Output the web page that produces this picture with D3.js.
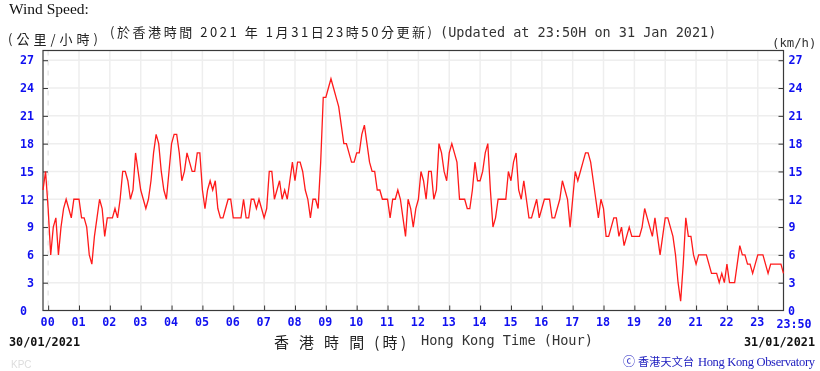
<!DOCTYPE html>
<html>
<head>
<meta charset="utf-8">
<script src="https://d3js.org/d3.v7.min.js"></script>
<style>
html, body { margin: 0; padding: 0; background: #fff; }
svg { display: block; filter: blur(0.3px); }
.mono { font-family: "DejaVu Sans Mono", monospace; fill: #333; }
.cjk { font-family: "Noto Sans CJK TC", sans-serif; fill: #222; }
.tick text { font-family: "DejaVu Sans Mono", monospace; font-weight: bold; font-size: 11.7px; fill: #1010f0; }
.domain { display: none; }
.tick line { stroke: #333; }
</style>
</head>
<body>
<div id="chart"></div>
<script>
// wind speed in km/h, every 5 minutes
const lastDay = [13, 15];
const hour00 = [11, 6, 9, 10, 6, 9, 11, 12, 11, 10, 12, 12];
const hour01 = [12, 10, 10, 9, 6, 5, 8, 10, 12, 11, 8, 10];
const hour02 = [10, 10, 11, 10, 12, 15, 15, 14, 12, 13, 17, 15];
const hour03 = [13, 12, 11, 12, 14, 17, 19, 18, 15, 13, 12, 15];
const hour04 = [18, 19, 19, 17, 14, 15, 17, 16, 15, 15, 17, 17];
const hour05 = [13, 11, 13, 14, 13, 14, 11, 10, 10, 11, 12, 12];
const hour06 = [10, 10, 10, 10, 12, 10, 10, 12, 12, 11, 12, 11];
const hour07 = [10, 11, 15, 15, 12, 13, 14, 12, 13, 12, 14, 16];
const hour08 = [14, 16, 16, 15, 13, 12, 10, 12, 12, 11, 16, 23];
const hour09 = [23, 24, 25, 24, 23, 22, 20, 18, 18, 17, 16, 16];
const hour10 = [17, 17, 19, 20, 18, 16, 15, 15, 13, 13, 12, 12];
const hour11 = [12, 10, 12, 12, 13, 12, 10, 8, 12, 11, 9, 11];
const hour12 = [12, 15, 14, 12, 15, 15, 12, 13, 18, 17, 15, 14];
const hour13 = [17, 18, 17, 16, 12, 12, 12, 11, 11, 13, 16, 14];
const hour14 = [14, 15, 17, 18, 13, 9, 10, 12, 12, 12, 12, 15];
const hour15 = [14, 16, 17, 13, 12, 14, 12, 10, 10, 11, 12, 10];
const hour16 = [11, 12, 12, 12, 10, 10, 11, 12, 14, 13, 12, 9];
const hour17 = [12, 15, 14, 15, 16, 17, 17, 16, 14, 12, 10, 12];
const hour18 = [11, 8, 8, 9, 10, 10, 8, 9, 7, 8, 9, 8];
const hour19 = [8, 8, 8, 9, 11, 10, 9, 8, 10, 8, 6, 8];
const hour20 = [10, 10, 9, 8, 6, 3, 1, 5, 10, 8, 8, 6];
const hour21 = [5, 6, 6, 6, 6, 5, 4, 4, 4, 3, 4, 3];
const hour22 = [5, 3, 3, 3, 5, 7, 6, 6, 5, 5, 4, 5];
const hour23 = [6, 6, 6, 5, 4, 5, 5, 5, 5, 5, 4];

const speeds = [].concat(lastDay, hour00, hour01, hour02, hour03, hour04, hour05,
    hour06, hour07, hour08, hour09, hour10, hour11, hour12, hour13, hour14, hour15,
    hour16, hour17, hour18, hour19, hour20, hour21, hour22, hour23);

const hourLabels = ["00","01","02","03","04","05","06","07","08","09","10","11",
    "12","13","14","15","16","17","18","19","20","21","22","23"];
const speedTicks = [0, 3, 6, 9, 12, 15, 18, 21, 24, 27];

const width = 820;
const height = 371;

const svg = d3.select("#chart")
    .append("svg")
    .attr("width", width)
    .attr("height", height);

// minutes after 00:00 on 30/01, the line starts 10 minutes before that
const x = d3.scaleLinear().domain([-10, 1430]).range([43, 783.5]);
const y = d3.scaleLinear().domain([0, 28.05]).range([310.5, 50.5]);

const hourTicks = hourLabels.map((d, i) => i * 60);

// grid
svg.append("g").selectAll("line")
    .data(hourTicks.slice(1))
    .enter().append("line")
    .attr("x1", d => x(d)).attr("x2", d => x(d))
    .attr("y1", y.range()[1]).attr("y2", y.range()[0])
    .attr("stroke", "#eeeeee").attr("stroke-width", 1.5);

svg.append("line")
    .attr("x1", x(0)).attr("x2", x(0))
    .attr("y1", y.range()[1]).attr("y2", y.range()[0])
    .attr("stroke", "#e8e8e8").attr("stroke-width", 1.5)
    .attr("stroke-dasharray", "5,5");

svg.append("g").selectAll("line")
    .data(speedTicks.slice(1))
    .enter().append("line")
    .attr("x1", x.range()[0]).attr("x2", x.range()[1])
    .attr("y1", d => y(d)).attr("y2", d => y(d))
    .attr("stroke", "#eeeeee").attr("stroke-width", 1.5);

// axes, ticks point inwards
svg.append("g")
    .attr("transform", "translate(43,0)")
    .call(d3.axisLeft(y).tickValues(speedTicks.slice(1)).tickSize(-5).tickPadding(9));

svg.append("g")
    .attr("transform", "translate(783.5,0)")
    .call(d3.axisRight(y).tickValues(speedTicks.slice(1)).tickSize(-5).tickPadding(5));

const bottomAxis = svg.append("g")
    .attr("transform", "translate(0,310.5)")
    .call(d3.axisBottom(x).tickValues(hourTicks).tickFormat((d, i) => hourLabels[i]).tickSize(-5).tickPadding(7));
bottomAxis.selectAll("text").attr("dx", -1);

// the zero labels and the end time sit apart from the axes
const blueLabel = (px, py, label, anchor) => svg.append("text")
    .attr("x", px).attr("y", py)
    .attr("text-anchor", anchor)
    .style("font-family", "'DejaVu Sans Mono', monospace")
    .style("font-weight", "bold")
    .style("font-size", "11.7px")
    .style("fill", "#1010f0")
    .text(label);

blueLabel(27, y(0) + 4, speedTicks[0], "end");
blueLabel(788, y(0) + 4, speedTicks[0], "start");
blueLabel(794, 328, "23:50", "middle");

// frame
svg.append("rect")
    .attr("x", 43).attr("y", 50.5)
    .attr("width", 740.5).attr("height", 260)
    .attr("fill", "none")
    .attr("stroke", "#3a3a3a")
    .attr("stroke-width", 1.2);

// wind line
const line = d3.line()
    .x((d, i) => x(-10 + i * 5))
    .y(d => y(d));

svg.append("path")
    .datum(speeds)
    .attr("fill", "none")
    .attr("stroke", "#ff1a1a")
    .attr("stroke-width", 1.3)
    .attr("d", line);

// titles
svg.append("text")
    .attr("x", 9).attr("y", 14)
    .style("font-family", "'Liberation Serif', serif")
    .style("font-size", "15.5px")
    .style("fill", "#111")
    .text("Wind Speed:");

svg.append("text")
    .attr("class", "cjk")
    .attr("x", 8).attr("y", 44)
    .attr("textLength", 90)
    .style("font-size", "13px")
    .text("(公里/小時)");

svg.append("text")
    .attr("class", "cjk")
    .attr("x", 110).attr("y", 37)
    .attr("textLength", 322)
    .style("font-size", "13px")
    .text("(於香港時間 2021 年 1月31日23時50分更新)");

svg.append("text")
    .attr("class", "mono")
    .attr("x", 440).attr("y", 37)
    .style("font-size", "13.5px")
    .text("(Updated at 23:50H on 31 Jan 2021)");

svg.append("text")
    .attr("class", "mono")
    .attr("x", 772).attr("y", 47)
    .style("font-size", "12.3px")
    .text("(km/h)");

// bottom texts
const dateLabel = (px, label) => svg.append("text")
    .attr("x", px).attr("y", 346)
    .style("font-family", "'DejaVu Sans Mono', monospace")
    .style("font-weight", "bold")
    .style("font-size", "11.8px")
    .style("fill", "#111")
    .text(label);

dateLabel(9, "30/01/2021");
dateLabel(744, "31/01/2021");

svg.append("text")
    .attr("class", "cjk")
    .attr("x", 274).attr("y", 348)
    .attr("textLength", 132)
    .style("font-size", "15px")
    .text("香 港 時 間 (時)");

svg.append("text")
    .attr("class", "mono")
    .attr("x", 421).attr("y", 345)
    .style("font-size", "13.6px")
    .text("Hong Kong Time (Hour)");

svg.append("text")
    .attr("x", 11).attr("y", 368)
    .style("font-family", "'Liberation Sans', sans-serif")
    .style("font-size", "10px")
    .style("fill", "#dddddd")
    .text("KPC");

svg.append("text")
    .attr("x", 623).attr("y", 366)
    .style("font-family", "'Noto Sans CJK TC', sans-serif")
    .style("font-size", "12px")
    .style("fill", "#2020c0")
    .text("ⓒ");

svg.append("text")
    .attr("x", 638).attr("y", 366)
    .attr("textLength", 56)
    .style("font-family", "'Noto Sans CJK TC', sans-serif")
    .style("font-size", "11px")
    .style("fill", "#2020c0")
    .text("香港天文台");

svg.append("text")
    .attr("x", 698).attr("y", 366)
    .attr("textLength", 117)
    .style("font-family", "'Liberation Serif', serif")
    .style("font-size", "12.5px")
    .style("fill", "#2020c0")
    .text("Hong Kong Observatory");
</script>
</body>
</html>
